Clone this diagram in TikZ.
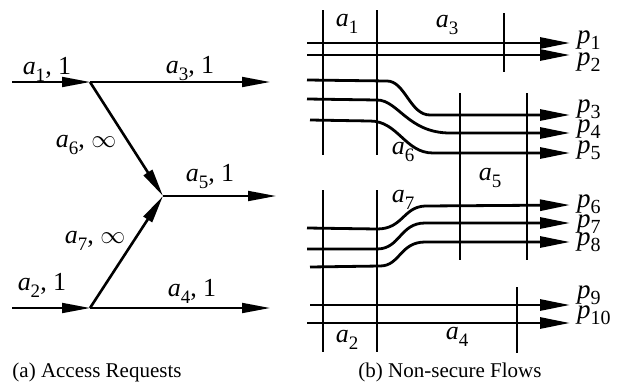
\documentclass[tikz,border=0pt]{standalone}
\usepackage{fontspec}
\setmainfont{Liberation Serif}
\usetikzlibrary{arrows.meta}
\newcommand{\lab}[2]{\textit{#1}\raisebox{-7pt}{\fontsize{19}{19}\selectfont #2}}
\newcommand{\plab}[2]{\textit{#1}\raisebox{-6pt}{\fontsize{20}{20}\selectfont #2}}
\begin{document}
\begin{tikzpicture}[x=1pt,y=-1pt,
  lbl/.style={inner sep=0pt, font=\fontsize{26}{28}\selectfont},
  plbl/.style={inner sep=0pt, anchor=base west, font=\fontsize{27}{28}\selectfont},
  captxt/.style={inner sep=0pt, font=\fontsize{21}{24}\selectfont},
  hline/.style={line width=1.8pt},
  dline/.style={line width=2.6pt},
  flow/.style={line width=2.8pt, -{Triangle[length=30pt,width=11pt]}},
  vline/.style={line width=1.8pt},
  atip/.style={-{Triangle[length=28pt,width=10pt]}}]
\useasboundingbox (0,0) rectangle (618,391);
% ---------- (a) ----------
\coordinate (s1) at (12,82);
\coordinate (j1) at (90,82);
\coordinate (e3) at (270,82);
\coordinate (j5) at (163,196);
\coordinate (e5) at (276,196);
\coordinate (s2) at (12,308);
\coordinate (j2) at (90,308);
\coordinate (e4) at (270,308);
\draw[hline,atip] (s1) -- (j1);
\draw[hline,atip] (j1) -- (e3);
\draw[dline,atip] (j1) -- (j5);
\draw[hline,atip] (j5) -- (e5);
\draw[hline,atip] (s2) -- (j2);
\draw[hline,atip] (j2) -- (e4);
\draw[dline,atip] (j2) -- (j5);
\node[lbl] (la1) at (47,69) {\lab{a}{1}, 1};
\node[lbl] (la3) at (190,69) {\lab{a}{3}, 1};
\node[lbl] (la6) at (86,145) {\lab{a}{6}, $\infty$};
\node[lbl] (la5) at (210,177) {\lab{a}{5}, 1};
\node[lbl] (la7) at (95,241) {\lab{a}{7}, $\infty$};
\node[lbl] (la2) at (42,285) {\lab{a}{2}, 1};
\node[lbl] (la4) at (192,291) {\lab{a}{4}, 1};
\node[captxt] (capa) at (97,372) {(a) Access Requests};
% ---------- (b) ----------
\coordinate (v1t) at (323,10);  \coordinate (v1b) at (323,155);
\coordinate (v2t) at (377,10);  \coordinate (v2b) at (377,155);
\coordinate (v3t) at (504,13);  \coordinate (v3b) at (504,72);
\coordinate (v4t) at (460,93);  \coordinate (v4b) at (460,260);
\coordinate (v5t) at (527,93);  \coordinate (v5b) at (527,260);
\coordinate (v6t) at (323,190); \coordinate (v6b) at (323,352);
\coordinate (v7t) at (377,190); \coordinate (v7b) at (377,352);
\coordinate (v8t) at (517,287); \coordinate (v8b) at (517,353);
\foreach \v in {1,...,8} {\draw[vline] (v\v t) -- (v\v b);}
% flows
\coordinate (p1s) at (307,43);  \coordinate (p1e) at (570,43);
\coordinate (p2s) at (307,55);  \coordinate (p2e) at (570,55);
\coordinate (p3s) at (307,80);  \coordinate (p3e) at (570,115);
\coordinate (p4s) at (307,99);  \coordinate (p4e) at (570,133);
\coordinate (p5s) at (310,120); \coordinate (p5e) at (570,153);
\coordinate (p6s) at (307,228); \coordinate (p6e) at (570,205);
\coordinate (p7s) at (307,249); \coordinate (p7e) at (570,223);
\coordinate (p8s) at (310,267); \coordinate (p8e) at (570,242);
\coordinate (p9s) at (310,305); \coordinate (p9e) at (570,305);
\coordinate (p10s) at (307,323); \coordinate (p10e) at (570,323);
\draw[flow] (p1s) -- (p1e);
\draw[flow] (p2s) -- (p2e);
\draw[flow] (p3s) -- (387,81) .. controls (405,81) and (410,115) .. (430,115) -- (p3e);
\draw[flow] (p4s) -- (377,100) .. controls (398,100) and (408,133) .. (450,133) -- (p4e);
\draw[flow] (p5s) -- (370,121) .. controls (398,121) and (405,153) .. (433,153) -- (p5e);
\draw[flow] (p6s) -- (377,229) .. controls (403,229) and (403,207) .. (425,206) -- (p6e);
\draw[flow] (p7s) -- (377,249) .. controls (400,249) and (400,223) .. (425,223) -- (p7e);
\draw[flow] (p8s) -- (380,266) .. controls (400,266) and (400,242) .. (425,242) -- (p8e);
\draw[flow] (p9s) -- (p9e);
\draw[flow] (p10s) -- (p10e);
\foreach \i/\y in {1/43,2/65,3/112,4/132,5/153,6/207,7/227,8/245,9/298,10/318}
  {\node[plbl] (lp\i) at (577,\y) {\plab{p}{\i}};}
\node[lbl] (lb1) at (347,24) {\lab{a}{1}};
\node[lbl] (lb3) at (447,25) {\lab{a}{3}};
\node[lbl] (lb6) at (403,152) {\lab{a}{6}};
\node[lbl] (lb5) at (490,178) {\lab{a}{5}};
\node[lbl] (lb7) at (403,200) {\lab{a}{7}};
\node[lbl] (lb2) at (347,340) {\lab{a}{2}};
\node[lbl] (lb4) at (457,337) {\lab{a}{4}};
\node[captxt] (capb) at (450,372) {(b) Non-secure Flows};
\end{tikzpicture}
\end{document}
